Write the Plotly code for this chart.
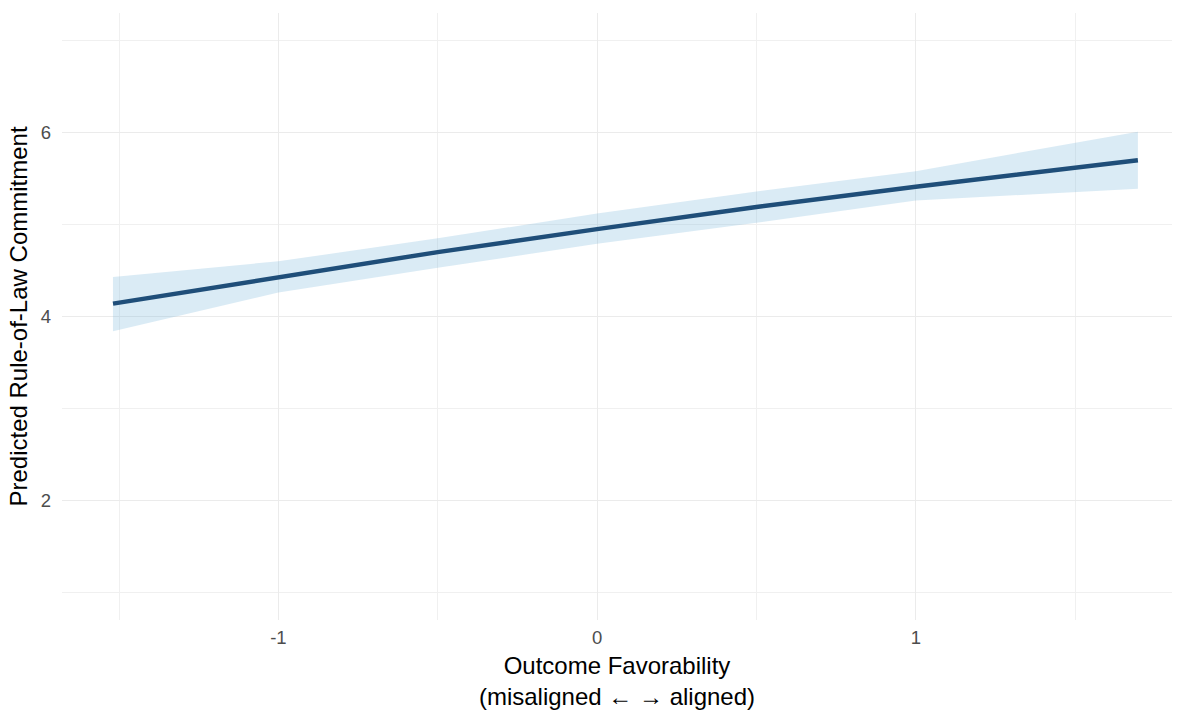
import plotly.graph_objects as go

# Data
x_vals = [-1.519, -1.0, -0.5, 0.0, 0.5, 1.0, 1.697]
fit = [4.14, 4.43, 4.70, 4.95, 5.19, 5.41, 5.70]
lower = [3.84, 4.26, 4.53, 4.79, 5.02, 5.26, 5.39]
upper = [4.43, 4.60, 4.85, 5.12, 5.36, 5.58, 6.01]

x_ticks = [-1, 0, 1]
y_ticks = [2, 4, 6]

FONT = "Liberation Sans, Arial, sans-serif"

fig = go.Figure()
fig.add_trace(go.Scatter(x=x_vals, y=upper, mode="lines", line=dict(width=0),
                         hoverinfo="skip", showlegend=False))
fig.add_trace(go.Scatter(x=x_vals, y=lower, mode="lines", line=dict(width=0),
                         fill="tonexty", fillcolor="rgba(107,174,214,0.25)",
                         hoverinfo="skip", showlegend=False))
fig.add_trace(go.Scatter(x=x_vals, y=fit, mode="lines",
                         line=dict(color="#1f4e79", width=4.5), showlegend=False))

fig.update_layout(
    width=1185, height=711,
    margin=dict(l=62, r=13, t=13, b=91),
    paper_bgcolor="white", plot_bgcolor="white",
    font=dict(family=FONT),
    xaxis=dict(
        range=[-1.679, 1.804], tickvals=x_ticks, ticktext=[str(v) for v in x_ticks],
        showgrid=True, gridcolor="#ebebeb", gridwidth=1.1, zeroline=False,
        showline=False, ticks="", ticklabelstandoff=4, automargin=False,
        minor=dict(tickvals=[-1.5, -0.5, 0.5, 1.5], showgrid=True,
                   gridcolor="#f0f0f0", gridwidth=1),
        tickfont=dict(size=18.5, color="#4d4d4d", family=FONT),
        title=dict(text="Outcome Favorability<br>(misaligned \u2190 \u2192 aligned)",
                   font=dict(size=24, color="black", family=FONT), standoff=10),
    ),
    yaxis=dict(
        range=[0.7, 7.3], tickvals=y_ticks, ticktext=[str(v) for v in y_ticks],
        showgrid=True, gridcolor="#ebebeb", gridwidth=1.1, zeroline=False,
        showline=False, ticks="", ticklabelstandoff=10, automargin=False,
        minor=dict(tickvals=[1, 3, 5, 7], showgrid=True,
                   gridcolor="#f0f0f0", gridwidth=1),
        tickfont=dict(size=18.5, color="#4d4d4d", family=FONT),
        title=dict(text="Predicted Rule-of-Law Commitment",
                   font=dict(size=24, color="black", family=FONT), standoff=6),
    ),
)

fig.write_html("out.html")
